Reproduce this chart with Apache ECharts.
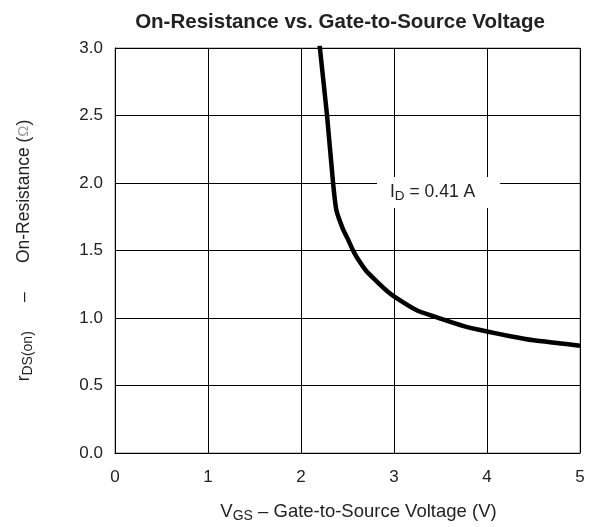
<!DOCTYPE html>
<html>
<head>
<meta charset="utf-8">
<script src="https://cdn.jsdelivr.net/npm/echarts@6/dist/echarts.min.js"></script>
<style>
  html, body { margin: 0; padding: 0; background: #fff; }
  #chart { width: 600px; height: 527px; }
</style>
</head>
<body>
<div id="chart"></div>
<script>
// curve, I_D = 0.41 A
var vgs = [2.20, 2.28, 2.345, 2.38, 2.45, 2.5, 2.56, 2.6, 2.7, 2.8, 2.9, 3.0, 3.25, 3.5, 3.75, 4.0, 4.25, 4.5, 4.75, 5.0];
var rds = [3.02, 2.5, 2.0, 1.80, 1.66, 1.59, 1.50, 1.45, 1.35, 1.28, 1.215, 1.16, 1.055, 0.995, 0.94, 0.90, 0.865, 0.835, 0.815, 0.795];
var xTicks = [0, 1, 2, 3, 4, 5];
var yTicks = ['0.0', '0.5', '1.0', '1.5', '2.0', '2.5', '3.0'];

var points = vgs.map(function (v, i) { return [v, rds[i]]; });

var font = 'Liberation Sans, Arial, sans-serif';
var myChart = echarts.init(document.getElementById('chart'));
var option = {
  backgroundColor: '#fff',
  animation: false,
  textStyle: { fontFamily: font },
  title: {
    text: 'On-Resistance vs. Gate-to-Source Voltage',
    left: 335,
    top: 7,
    textAlign: 'center',
    textStyle: { fontSize: 20.5, fontWeight: 'bold', color: '#222', fontFamily: font }
  },
  grid: {
    left: 115, right: 20, top: 48, bottom: 74,
    outerBoundsMode: 'none',
    containLabel: false,
    show: true, borderColor: '#888', borderWidth: 1, backgroundColor: 'transparent'
  },
  xAxis: {
    type: 'value',
    min: 0, max: 5, interval: 1,
    axisLine: { show: true, onZero: false, lineStyle: { color: '#000', width: 1 } },
    axisTick: { show: false },
    axisLabel: {
      margin: 16, fontSize: 17, color: '#222',
      formatter: function (v) { return xTicks.indexOf(v) >= 0 ? String(v) : ''; }
    },
    splitLine: { show: true, lineStyle: { color: '#000', width: 1 } },
    name: '{a|V}{s|GS}{a| – Gate-to-Source Voltage (V)}',
    nameLocation: 'middle',
    nameGap: 48,
    nameTextStyle: {
      padding: [0, 0, 0, 22],
      rich: {
        a: { fontSize: 18.5, color: '#222', fontFamily: font },
        s: { fontSize: 14, color: '#222', fontFamily: font, padding: [8, 0, 0, 0] }
      }
    }
  },
  yAxis: {
    type: 'value',
    min: 0, max: 3, interval: 0.5,
    axisLine: { show: true, lineStyle: { color: '#000', width: 1 } },
    axisTick: { show: false },
    axisLabel: {
      margin: 12, fontSize: 17, color: '#222',
      formatter: function (v) { return yTicks[Math.round(v * 2)]; }
    },
    splitLine: { show: true, lineStyle: { color: '#000', width: 1 } },
    name: '{a|r}{s|DS(on)}{a|      –      On-Resistance (}{o|Ω}{a|)}',
    nameLocation: 'middle',
    nameGap: 80,
    nameTextStyle: {
      rich: {
        a: { fontSize: 17.5, color: '#222', fontFamily: font },
        s: { fontSize: 14, color: '#222', fontFamily: font, padding: [8, 0, 0, 0] },
        o: { fontSize: 15, color: '#999', fontFamily: font }
      }
    }
  },
  series: [{
    type: 'line',
    data: points,
    showSymbol: false,
    clip: true,
    smooth: 0.15,
    lineStyle: { color: '#000', width: 4.5, join: 'round' },
    z: 5
  }],
  graphic: [{
    type: 'text',
    left: 377,
    top: 177,
    z: 10,
    style: {
      text: '{a|I}{s|D}{a| = 0.41 A}',
      backgroundColor: '#fff',
      padding: [5, 25, 5, 13],
      rich: {
        a: { fontSize: 17.5, fill: '#222', fontFamily: font },
        s: { fontSize: 13.5, fill: '#222', fontFamily: font, padding: [7, 0, 0, 0] }
      }
    }
  }]
};
myChart.setOption(option);
</script>
</body>
</html>
